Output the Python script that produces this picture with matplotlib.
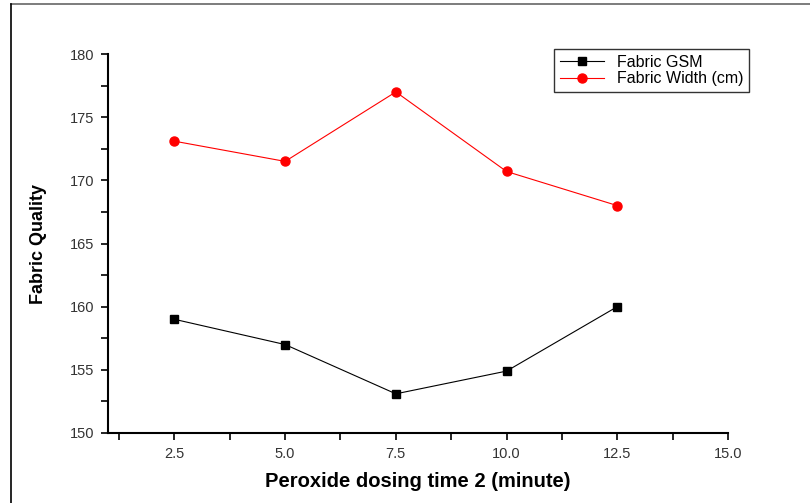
import matplotlib
matplotlib.use("Agg")
import matplotlib.pyplot as plt
from matplotlib.lines import Line2D
from matplotlib.ticker import MultipleLocator

plt.rcParams['font.family'] = ['Liberation Sans', 'DejaVu Sans']

# data
dosing_time = [2.5, 5.0, 7.5, 10.0, 12.5]
fabric_gsm = [159.0, 157.0, 153.1, 154.9, 160.0]
fabric_width = [173.1, 171.5, 177.0, 170.7, 168.0]
x_ticks = [2.5, 5.0, 7.5, 10.0, 12.5, 15.0]
x_tick_labels = ['2.5', '5.0', '7.5', '10.0', '12.5', '15.0']

fig = plt.figure(figsize=(8.1, 5.03), dpi=100)
ax = fig.add_axes([0.1333, 0.1392, 0.7655, 0.7534])

ax.plot(dosing_time, fabric_gsm, color='black', lw=0.8, marker='s', ms=6,
        label='Fabric GSM')
ax.plot(dosing_time, fabric_width, color='red', lw=0.8, marker='o', ms=6.5,
        label='Fabric Width (cm)')

ax.set_xlim(1.0, 15.0)
ax.set_ylim(150, 180)
ax.xaxis.set_minor_locator(MultipleLocator(1.25))
ax.yaxis.set_major_locator(MultipleLocator(5))
ax.yaxis.set_minor_locator(MultipleLocator(2.5))
ax.set_xticks(x_ticks)
ax.set_xticklabels(x_tick_labels)

for s in ['top', 'right']:
    ax.spines[s].set_visible(False)
for s in ['left', 'bottom']:
    ax.spines[s].set_linewidth(1.5)
ax.tick_params(which='both', direction='out', width=1.2, labelsize=10.5,
               labelcolor='#333333')
ax.tick_params(which='major', length=5, pad=5)
ax.tick_params(which='minor', length=5)

ax.set_xlabel('Peroxide dosing time 2 (minute)', fontsize=14.5,
              fontweight='bold', labelpad=8)
ax.set_ylabel('Fabric Quality', fontsize=13, fontweight='bold', labelpad=16)

leg = fig.legend(loc='upper left', bbox_to_anchor=(554/810, 1-49/503),
                 fontsize=11.5, frameon=True, fancybox=False, borderpad=0.35,
                 handlelength=2.8, handletextpad=0.8, labelspacing=0.1,
                 borderaxespad=0)
leg.get_frame().set_edgecolor('black')
leg.get_frame().set_linewidth(1.0)

# outer border (top and left)
fig.add_artist(Line2D([11/810, 1.0], [1-4/503, 1-4/503], color='#666666', lw=1.2))
fig.add_artist(Line2D([11/810, 11/810], [0, 1-4/503], color='black', lw=1.2))

fig.savefig('out.png', dpi=100)
